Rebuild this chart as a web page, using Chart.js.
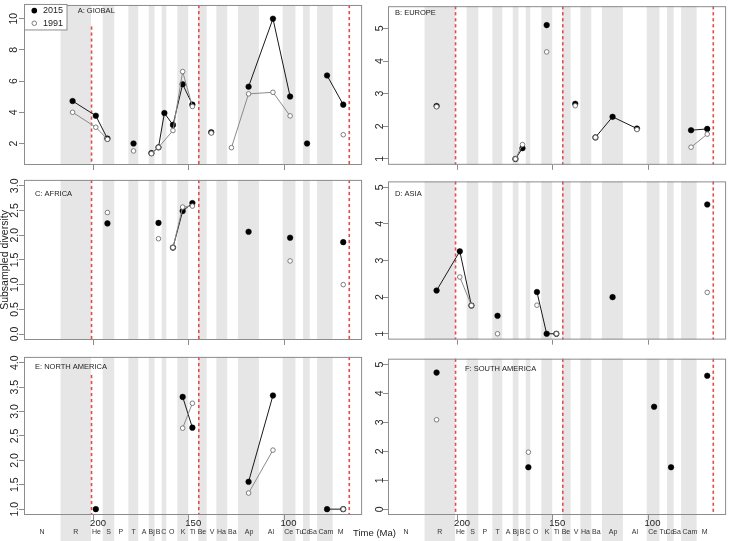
<!DOCTYPE html>
<html><head><meta charset="utf-8">
<script src="https://cdn.jsdelivr.net/npm/chart.js@4.4.0/dist/chart.umd.min.js"></script>
<style>
html,body{margin:0;padding:0;background:#fff;width:730px;height:541px;overflow:hidden;position:relative;font-family:"Liberation Sans",Arial,sans-serif}
canvas{position:absolute}
#xt{position:absolute;left:353px;top:527px;font-size:9.5px;line-height:11px;color:#222;white-space:nowrap}
</style></head><body>
<canvas id="cA"></canvas><canvas id="cB"></canvas><canvas id="cC"></canvas>
<canvas id="cD"></canvas><canvas id="cE"></canvas><canvas id="cF"></canvas>
<div id="xt">Time (Ma)</div>
<script>
// ---------- data ----------
const stageNames = ['N','R','He','S','P','T','A','Bj','B','C','O','K','Ti','Be','V','Ha','Ba','Ap','Al','Ce','Tu','Co','Sa','Cam','M'];
const stageLabelAges = [227.0,209.3,198.5,192.1,185.6,179.0,173.5,169.5,166.1,163.1,159.0,153.0,148.0,143.1,137.7,132.8,127.1,118.3,106.9,97.5,91.9,88.5,85.0,78.0,70.3];
const grayStageStart = [217.3,195.2,181.7,171.0,164.2,156.0,145.0,135.5,124.2,100.7,90.0,82.6];
const grayStageEnd   = [201.3,189.1,176.5,168.0,161.8,150.3,140.6,129.8,113.2,94.0,86.5,74.5];
const periodBoundaries = [201.3,145.0,66.0];
const timeTicks = [200,150,100];

const globalTicks = [2,4,6,8,10];
const europeTicks = [1,2,3,4,5];
const africaTicks = [0,0.5,1,1.5,2,2.5,3];
const asiaTicks = [1,2,3,4,5];
const namericaTicks = [1,1.5,2,2.5,3,3.5,4];
const samericaTicks = [0,1,2,3,4,5];

const globalAges2015 = [211.0,198.8,192.7,null,179.0,null,169.6,165.9,162.8,158.3,153.2,148.1,null,138.2,null,118.6,105.8,96.8,null,87.9,null,77.4,68.9];
const global2015     = [4.72,3.78,2.31,null,2.0,null,1.38,1.75,3.95,3.19,5.8,4.49,null,2.72,null,5.64,10.0,5.01,null,2.0,null,6.36,4.49];
const globalAges1991 = [211.0,198.8,192.7,null,179.0,null,169.6,165.9,158.3,153.2,148.1,null,138.2,null,127.6,118.6,105.8,96.8,null,68.9];
const global1991     = [4.0,3.04,2.27,null,1.52,null,1.35,1.75,2.83,6.61,4.37,null,2.67,null,1.73,5.18,5.28,3.77,null,2.56];

const europeAges2015 = [211.0,null,169.6,165.9,null,153.2,null,138.2,null,127.6,118.6,105.8,null,77.4,68.9];
const europe2015     = [2.62,null,1.0,1.33,null,5.1,null,2.69,null,1.66,2.29,1.93,null,1.88,1.92];
const europeAges1991 = [211.0,null,169.6,165.9,null,153.2,null,138.2,null,127.6,null,105.8,null,77.4,68.9];
const europe1991     = [2.6,null,1.0,1.44,null,4.28,null,2.63,null,1.66,null,1.9,null,1.36,1.76];

const africaAges2015 = [192.7,null,165.9,null,158.3,153.2,148.1,null,118.6,null,96.8,null,68.9];
const africa2015     = [2.24,null,2.25,null,1.75,2.49,2.65,null,2.07,null,1.95,null,1.86];
const africaAges1991 = [192.7,null,165.9,null,158.3,153.2,148.1,null,96.8,null,68.9];
const africa1991     = [2.46,null,1.93,null,1.75,2.57,2.59,null,1.48,null,1.0];

const asiaAges2015 = [211.0,198.8,192.7,null,179.0,null,158.3,153.2,148.1,null,118.6,null,68.9];
const asia2015     = [2.18,3.25,1.77,null,1.49,null,2.14,1.0,1.0,null,2.0,null,4.53];
const asiaAges1991 = [198.8,192.7,null,179.0,null,158.3,null,148.1,null,68.9];
const asia1991     = [2.55,1.77,null,1.0,null,1.78,null,1.0,null,2.13];

const namericaAges2015 = [198.8,null,153.2,148.1,null,118.6,105.8,null,77.4,68.9];
const namerica2015     = [1.0,null,3.3,2.67,null,1.56,3.33,null,1.0,1.0];
const namericaAges1991 = [153.2,148.1,null,118.6,105.8,null,68.9];
const namerica1991     = [2.66,3.17,null,1.33,2.21,null,1.0];

const samericaAges2015 = [211.0,null,162.8,null,96.8,null,87.9,null,68.9];
const samerica2015     = [4.72,null,1.45,null,3.54,null,1.45,null,4.61];
const samericaAges1991 = [211.0,null,162.8];
const samerica1991     = [3.09,null,1.97];

// ---------- drawing ----------
Chart.defaults.font.family = '"Liberation Sans", Arial, Helvetica, sans-serif';
Chart.defaults.color = '#222';
const FRAME = '#8c8c8c';
const RED = '#e34c4c';
const mctx = document.createElement('canvas').getContext('2d');
function widest(labels, size){ mctx.font = size + 'px "Liberation Sans", Arial'; return Math.max(...labels.map(l => mctx.measureText(l).width)); }
function pts(ages, vals){ return ages.map((a,i) => ({x: a, y: vals[i]})); }

const decor = {
  id: 'decor',
  beforeDraw(chart){
    const o = chart.options.plugins.decor, ctx = chart.ctx, ca = chart.chartArea, x = chart.scales.x;
    const bottom = o.bottomRow ? chart.height : ca.bottom;
    ctx.save(); ctx.fillStyle = '#e6e6e6';
    for (let i = 0; i < grayStageStart.length; i++){
      const a = x.getPixelForValue(grayStageStart[i]), b = x.getPixelForValue(grayStageEnd[i]);
      ctx.fillRect(a, ca.top, b - a, bottom - ca.top);
    }
    ctx.restore();
  },
  beforeDatasetsDraw(chart){
    const o = chart.options.plugins.decor, ctx = chart.ctx, ca = chart.chartArea, x = chart.scales.x, y = chart.scales.y;
    ctx.save();
    ctx.fillStyle = RED;
    periodBoundaries.forEach((t,i) => {
      const px = x.getPixelForValue(t) + 0.5;
      const top = (i === 0 && o.redTop != null) ? y.getPixelForValue(o.redTop) : ca.top;
      for (let yy = top; yy < ca.bottom; yy += 6){
        ctx.fillRect(px - 0.8, yy, 1.6, Math.min(3.2, ca.bottom - yy));
      }
    });
    ctx.strokeStyle = FRAME; ctx.lineWidth = 1;
    ctx.strokeRect(ca.left + 0.5, ca.top + 0.5, ca.right - ca.left - 1, ca.bottom - ca.top - 1);
    ctx.fillStyle = '#222'; ctx.textBaseline = 'middle'; ctx.textAlign = 'left';
    ctx.font = '7.5px "Liberation Sans", Arial';
    ctx.fillText(o.title, ca.left + o.tdx, ca.top + o.tdy);
    if (o.legend){
      const lx = ca.left, ly = ca.top;
      ctx.fillStyle = '#fff'; ctx.fillRect(lx, ly - 1, 43, 26);
      ctx.strokeStyle = FRAME; ctx.strokeRect(lx + 0.5, ly - 0.5, 42.5, 25.5);
      const ds = chart.data.datasets;
      ctx.beginPath(); ctx.arc(lx + 10.3, ly + 5.7, 2.8, 0, Math.PI*2); ctx.fillStyle = '#000'; ctx.fill();
      ctx.beginPath(); ctx.arc(lx + 10.3, ly + 18.3, 2.3, 0, Math.PI*2); ctx.fillStyle = '#fff'; ctx.fill();
      ctx.lineWidth = 0.9; ctx.strokeStyle = '#707070'; ctx.stroke();
      ctx.fillStyle = '#222'; ctx.font = '9px "Liberation Sans", Arial';
      ctx.fillText(ds[0].label, lx + 19, ly + 6);
      ctx.fillText(ds[1].label, lx + 19, ly + 18.6);
    }
    ctx.restore();
  }
};

const panels = [
  {id:'cA', left:0,   top:0,   h:171, bottomRow:false, yMin:0.62, yMax:10.88, yTicks:globalTicks,   yDec:0, lc:9.5, title:'A: GIOBAL',         tdx:53.7, tdy:6.3,  redTop:9.5,  legend:true,  s15:[globalAges2015,global2015],     s91:[globalAges1991,global1991]},
  {id:'cB', left:364, top:0,   h:171, bottomRow:false, yMin:0.82, yMax:5.68,  yTicks:europeTicks,   yDec:0, lc:7.8, title:'B: EUROPE',         tdx:7,    tdy:6.3,  redTop:null, legend:false, s15:[europeAges2015,europe2015],     s91:[europeAges1991,europe1991]},
  {id:'cC', left:0,   top:175, h:171, bottomRow:false, yMin:-0.12,yMax:3.12,  yTicks:africaTicks,   yDec:1, lc:9.0, title:'C: AFRICA',         tdx:11,   tdy:14,   redTop:null, legend:false, s15:[africaAges2015,africa2015],     s91:[africaAges1991,africa1991], yTitle:'Subsampled diversity'},
  {id:'cD', left:364, top:175, h:171, bottomRow:false, yMin:0.84, yMax:5.16,  yTicks:asiaTicks,     yDec:0, lc:8.0, title:'D: ASIA',           tdx:7,    tdy:13,   redTop:null, legend:false, s15:[asiaAges2015,asia2015],         s91:[asiaAges1991,asia1991]},
  {id:'cE', left:0,   top:352, h:189, bottomRow:true,  yMin:0.88, yMax:4.12,  yTicks:namericaTicks, yDec:1, lc:9.0, title:'E: NORTH AMERICA',  tdx:11,   tdy:10.3, redTop:3.75, legend:false, s15:[namericaAges2015,namerica2015], s91:[namericaAges1991,namerica1991]},
  {id:'cF', left:364, top:352, h:189, bottomRow:true,  yMin:-0.2, yMax:5.2,   yTicks:samericaTicks, yDec:0, lc:8.3, title:'F: SOUTH AMERICA',  tdx:77,   tdy:10.3, redTop:null, legend:false, s15:[samericaAges2015,samerica2015], s91:[samericaAges1991,samerica1991]}
];

panels.forEach(p => {
  const cv = document.getElementById(p.id);
  cv.width = 367; cv.height = p.h; cv.style.left = p.left + 'px'; cv.style.top = p.top + 'px';
  const yLabels = p.yTicks.map(v => v.toFixed(p.yDec));
  const yPad = p.lc - 5 - widest(yLabels, 10.5) / 2;
  const scales = {
    x: {type:'linear', position:'bottom', reverse:true, min:59, max:236.5, weight:0,
        afterBuildTicks: s => { s.ticks = timeTicks.map(v => ({value:v})); },
        afterFit: s => { s.height = p.bottomRow ? 13 : 6; },
        grid:{display:true, drawOnChartArea:false, tickLength:5, tickColor:FRAME, tickWidth:1},
        border:{display:false},
        ticks:{display:p.bottomRow, autoSkip:false, minRotation:0, maxRotation:0, labelOffset:4.5, padding:-2.4, font:{size:9.5}, color:'#222', callback: v => String(v)}},
    y: {type:'linear', min:p.yMin, max:p.yMax,
        afterBuildTicks: s => { s.ticks = p.yTicks.map(v => ({value:v})); },
        afterFit: s => { s.width = 24; },
        grid:{display:true, drawOnChartArea:false, tickLength:5, tickColor:FRAME, tickWidth:1},
        border:{display:false},
        ticks:{autoSkip:false, minRotation:90, maxRotation:90, crossAlign:'center', padding:yPad, font:{size:10.5}, color:'#222', callback: v => Number(v).toFixed(p.yDec)},
        title: p.yTitle ? {display:true, text:p.yTitle, font:{size:10.5}, color:'#222', padding:{top:-1, bottom:0}} : {display:false}}
  };
  if (p.bottomRow){
    scales.x2 = {type:'linear', position:'bottom', axis:'x', reverse:true, min:59, max:236.5, weight:1,
      afterBuildTicks: s => { s.ticks = stageLabelAges.map(v => ({value:v})); },
      afterFit: s => { s.height = 13; },
      grid:{display:false, drawTicks:false}, border:{display:false},
      ticks:{autoSkip:false, minRotation:0, maxRotation:0, padding:0.3, font:{size:7}, color:'#333', callback: (v,i) => stageNames[i]}};
  }
  new Chart(cv, {
    type:'line',
    data:{datasets:[
      {label:'2015', data:pts(p.s15[0], p.s15[1]), order:1, borderColor:'#1a1a1a', borderWidth:1, pointRadius:2.8, pointBackgroundColor:'#000', pointBorderColor:'#000', pointBorderWidth:0.5, spanGaps:false, tension:0, fill:false},
      {label:'1991', data:pts(p.s91[0], p.s91[1]), order:0, borderColor:'#8a8a8a', borderWidth:1, pointRadius:2.3, pointBackgroundColor:'#fff', pointBorderColor:'#707070', pointBorderWidth:0.9, spanGaps:false, tension:0, fill:false}
    ]},
    options:{
      responsive:false, maintainAspectRatio:false, animation:false, devicePixelRatio:1, events:[],
      layout:{padding:{top:1, right:1, left:0, bottom:0}},
      scales,
      plugins:{legend:{display:false}, tooltip:{enabled:false},
        decor:{bottomRow:p.bottomRow, title:p.title, tdx:p.tdx, tdy:p.tdy, redTop:p.redTop, legend:p.legend}}
    },
    plugins:[decor]
  });
});
</script>
</body></html>
